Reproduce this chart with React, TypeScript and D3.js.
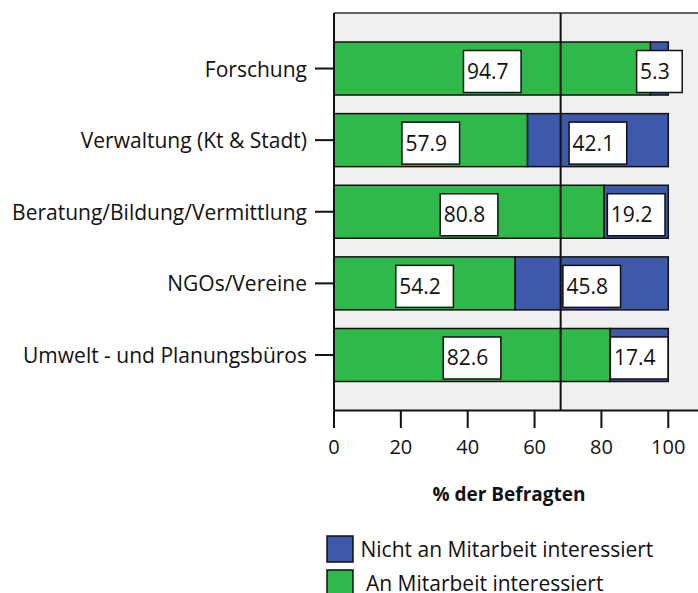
import React from "react";
import * as d3 from "d3";

const categories = [
  "Forschung",
  "Verwaltung (Kt & Stadt)",
  "Beratung/Bildung/Vermittlung",
  "NGOs/Vereine",
  "Umwelt - und Planungsbüros",
];
const interested = [94.7, 57.9, 80.8, 54.2, 82.6];
const notInterested = [5.3, 42.1, 19.2, 45.8, 17.4];
const xTicks = [0, 20, 40, 60, 80, 100];
const referenceValue = 67.8;
const legendLabels = ["Nicht an Mitarbeit interessiert", " An Mitarbeit interessiert"];
const axisTitle = "% der Befragten";

const GREEN = "#2fb94b";
const BLUE = "#3e58aa";
const FONT = "'Open Sans', sans-serif";

function textWidth(s: string, size: number) {
  let w = 0;
  for (const c of s) {
    if (c === ".") w += 0.266;
    else w += 0.572;
  }
  return w * size;
}

export default function App() {
  const W = 698;
  const H = 593;
  const plotLeft = 334;
  const plotTop = 13;
  const plotBottom = 410.5;
  const x = d3.scaleLinear().domain([0, 110]).range([plotLeft, plotLeft + 367.7]);
  const y = d3
    .scaleBand<string>()
    .domain(categories)
    .range([plotTop, plotBottom])
    .paddingInner(0.26)
    .paddingOuter(0.405);
  const bw = y.bandwidth();

  const labelSize = 21;

  return (
    <svg
      width={W}
      height={H}
      style={{ position: "absolute", left: 0, top: 0 }}
      fontFamily={FONT}
    >
      {/* plot background */}
      <rect x={plotLeft} y={plotTop} width={W - plotLeft + 5} height={plotBottom - plotTop} fill="#f0f0f0" />
      <line x1={plotLeft} x2={W} y1={plotTop} y2={plotTop} stroke="#333" strokeWidth={1.5} />

      {/* bars */}
      {categories.map((c, i) => {
        const y0 = y(c)!;
        return (
          <g key={c}>
            <rect
              x={x(0)}
              y={y0}
              width={x(interested[i]) - x(0)}
              height={bw}
              fill={GREEN}
              stroke="#111"
              strokeWidth={1.5}
            />
            <rect
              x={x(interested[i])}
              y={y0}
              width={x(interested[i] + notInterested[i]) - x(interested[i])}
              height={bw}
              fill={BLUE}
              stroke="#111"
              strokeWidth={1.5}
            />
          </g>
        );
      })}

      {/* reference line */}
      <line
        x1={x(referenceValue)}
        x2={x(referenceValue)}
        y1={plotTop}
        y2={plotBottom}
        stroke="#111"
        strokeWidth={2}
      />

      {/* data labels */}
      {categories.map((c, i) => {
        const cy = y(c)! + bw / 2 + 3;
        const items = [
          { v: interested[i], mid: interested[i] / 2 },
          { v: notInterested[i], mid: interested[i] + notInterested[i] / 2 },
        ];
        return items.map((it, j) => {
          const s = it.v.toFixed(1);
          const tw = textWidth(s, labelSize);
          const boxW = tw + 16;
          const cx = x(it.mid);
          const left = cx - boxW / 2;
          return (
            <g key={c + j}>
              <rect
                x={left}
                y={cy - 21}
                width={boxW}
                height={42}
                fill="#fff"
                stroke="#111"
                strokeWidth={1.5}
              />
              <text x={left + 3.5} y={cy + 7.5} fontSize={labelSize} fill="#111">
                {s}
              </text>
            </g>
          );
        });
      })}

      {/* left axis */}
      <line x1={plotLeft} x2={plotLeft} y1={plotTop} y2={plotBottom} stroke="#111" strokeWidth={2} />
      {categories.map((c) => {
        const cy = y(c)! + bw / 2;
        return (
          <g key={"yt" + c}>
            <line x1={315} x2={plotLeft} y1={cy} y2={cy} stroke="#111" strokeWidth={2} />
            <text x={307} y={cy} fontSize={21} textAnchor="end" dominantBaseline="central" fill="#111">
              {c}
            </text>
          </g>
        );
      })}

      {/* bottom axis */}
      <line x1={plotLeft} x2={W} y1={plotBottom} y2={plotBottom} stroke="#111" strokeWidth={2} />
      {xTicks.map((t) => (
        <g key={"xt" + t}>
          <line x1={x(t)} x2={x(t)} y1={plotBottom} y2={428} stroke="#111" strokeWidth={2} />
          <text x={x(t)} y={454} fontSize={20} textAnchor="middle" fill="#111">
            {t}
          </text>
        </g>
      ))}
      <text x={509} y={501} fontSize={19} fontWeight="bold" textAnchor="middle" fill="#111">
        {axisTitle}
      </text>

      {/* legend */}
      {[BLUE, GREEN].map((col, i) => (
        <g key={"lg" + i}>
          <rect x={327} y={536 + i * 34} width={26} height={26} fill={col} stroke="#111" strokeWidth={1.5} />
          <text x={360.5} y={556.5 + i * 34} fontSize={21} fill="#111" style={{ whiteSpace: "pre" }}>
            {legendLabels[i]}
          </text>
        </g>
      ))}
    </svg>
  );
}
